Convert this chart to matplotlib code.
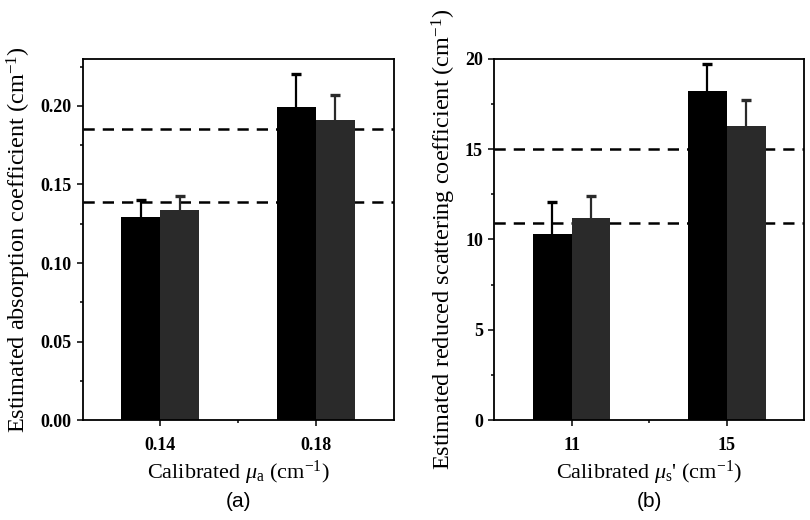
import matplotlib
matplotlib.use('Agg')
import matplotlib.pyplot as plt
import numpy as np
from matplotlib.ticker import MultipleLocator, FixedLocator

# data
groups_a = ['0.14', '0.18']
est_a_1 = [0.129, 0.199]
err_a_1 = [0.011, 0.021]
est_a_2 = [0.134, 0.191]
err_a_2 = [0.0088, 0.016]
ref_a = [0.139, 0.185]

groups_b = ['11', '15']
est_b_1 = [10.3, 18.2]
err_b_1 = [1.8, 1.5]
est_b_2 = [11.2, 16.3]
err_b_2 = [1.2, 1.4]
ref_b = [10.9, 15.0]

plt.rcParams['font.family'] = ['Liberation Serif', 'DejaVu Serif']
plt.rcParams['mathtext.fontset'] = 'custom'
plt.rcParams['mathtext.rm'] = 'Liberation Serif'
plt.rcParams['mathtext.it'] = 'Liberation Serif:italic'
plt.rcParams['mathtext.bf'] = 'Liberation Serif:bold'

fig = plt.figure(figsize=(8.1, 5.2), dpi=100)
ax1 = fig.add_axes([0.102, 0.192, 0.384, 0.695])
ax2 = fig.add_axes([0.610, 0.192, 0.383, 0.695])

w = 0.25


def upper_err(ax, x, v, e, c):
    # error bars only upwards, cap only at the top
    v = np.asarray(v)
    e = np.asarray(e)
    ax.vlines(x, v, v + e, color=c, lw=1.6, zorder=3)
    ax.plot(x, v + e, ls='none', marker='_', ms=7, mew=2.4, color=c, zorder=3)


def panel(ax, groups, v1, e1, v2, e2, ref, ylim, major, minor, ylabel, xlabel, fmt, tag):
    x = np.arange(1, len(groups) + 1)
    for r in ref:
        ax.axhline(r, color='black', lw=1.8, ls=(0, (4.5, 3.2)), zorder=1)
    ax.bar(x - w / 2, v1, w, color='black', zorder=2)
    ax.bar(x + w / 2, v2, w, color='#2a2a2a', zorder=2)
    upper_err(ax, x - w / 2, v1, e1, 'black')
    upper_err(ax, x + w / 2, v2, e2, '#2a2a2a')
    ax.set_xlim(0.5, len(groups) + 0.5)
    ax.set_ylim(*ylim)
    ax.set_xticks(x)
    ax.set_xticklabels(groups, fontweight='bold', fontsize=13)
    ax.xaxis.set_minor_locator(FixedLocator([1.5]))
    ax.yaxis.set_major_locator(MultipleLocator(major))
    ax.yaxis.set_minor_locator(MultipleLocator(minor))
    ax.set_yticklabels([fmt.format(t) for t in ax.get_yticks()], fontweight='bold', fontsize=13)
    ax.tick_params(which='major', direction='out', length=4.5, width=1.1, top=False, right=False)
    ax.tick_params(axis='x', which='major', pad=7.5)
    ax.tick_params(axis='y', which='major', pad=3.5)
    ax.tick_params(which='minor', direction='out', length=2.5, width=1.1, top=False, right=False)
    for s in ax.spines.values():
        s.set_linewidth(1.3)
    ax.set_ylabel(ylabel, fontsize=17.5, labelpad=5)
    ax.set_xlabel(xlabel, fontsize=16, labelpad=3.5)
    ax.text(0.5, -0.225, tag, transform=ax.transAxes, ha='center', va='center',
            fontsize=15, family='Liberation Sans')


panel(ax1, groups_a, est_a_1, err_a_1, est_a_2, err_a_2, ref_a, (0, 0.23), 0.05, 0.025,
      'Estimated absorption coefficient (cm$^{-1}$)',
      r'Calibrated $\mu_{\rm a}$ (cm$^{-1}$)', '{:.2f}', '(a)')
panel(ax2, groups_b, est_b_1, err_b_1, est_b_2, err_b_2, ref_b, (0, 20), 5, 2.5,
      'Estimated reduced scattering coefficient (cm$^{-1}$)',
      r"Calibrated $\mu_{\rm s}$' (cm$^{-1}$)", '{:.0f}', '(b)')

fig.savefig('out.png', dpi=100)
